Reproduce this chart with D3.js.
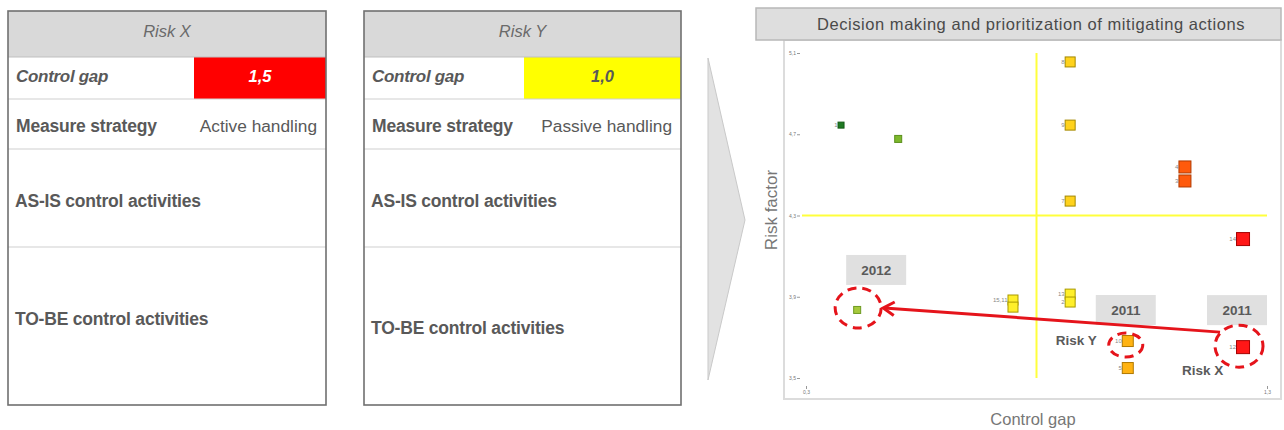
<!DOCTYPE html>
<html>
<head>
<meta charset="utf-8">
<script src="https://cdn.jsdelivr.net/npm/d3@7"></script>
<style>
  body { margin: 0; background: #fff; }
  svg { display: block; }
  text { font-family: "Liberation Sans", Arial, sans-serif; }
</style>
</head>
<body>
<svg id="chart" width="1284" height="430"></svg>
<script>
// ---- Risk cards ----
const riskNames = ["Risk X", "Risk Y"];
const controlGapValues = [1.5, 1.0];
const controlGapLevels = ["critical", "moderate"];
const measureStrategies = ["Active handling", "Passive handling"];
const cardRowTitles = ["Control gap", "Measure strategy", "AS-IS control activities", "TO-BE control activities"];

// ---- Risk matrix ----
const chartTitle = "Decision making and prioritization of mitigating actions";
const xAxisTitle = "Control gap";
const yAxisTitle = "Risk factor";
const xTickValues = [0.3, 1.3];
const yTickValues = [5.1, 4.7, 4.3, 3.9, 3.5];
const controlGapThreshold = 0.8;
const riskFactorThreshold = 4.3;

const pointLabels = ["1", "", "8", "9", "7", "4", "3", "14", "13", "2", "15,11", "", "10", "5", "12", ""];
const pointControlGap = [0.376, 0.50, 0.873, 0.873, 0.873, 1.122, 1.122, 1.248, 0.873, 0.873, 0.749, 0.749, 0.998, 0.998, 1.248, 0.411];
const pointRiskFactor = [4.745, 4.677, 5.056, 4.745, 4.371, 4.539, 4.47, 4.184, 3.913, 3.874, 3.884, 3.849, 3.682, 3.549, 3.652, 3.835];
const pointLevels = ["very low", "low", "elevated", "elevated", "elevated", "very high", "very high", "critical",
                     "moderate", "moderate", "moderate", "moderate", "high", "high", "critical", "target"];

// highlighted movements: Risk X (2011) -> 2012, Risk Y (2011)
const calloutYears = ["2012", "2011", "2011"];
const calloutPoints = [15, 12, 14];
const calloutNames = ["", "Risk Y", "Risk X"];

// ---- styling ----
const levelStyle = {
  "very low":  { fill: "#1f7a22", stroke: "#145a16", size: 6 },
  "low":       { fill: "#7db82c", stroke: "#5a8f1c", size: 7 },
  "target":    { fill: "#a6c93c", stroke: "#6e9a22", size: 7 },
  "moderate":  { fill: "#ffef2a", stroke: "#a99a00", size: 10 },
  "elevated":  { fill: "#ffd21c", stroke: "#a48800", size: 10 },
  "high":      { fill: "#ffb312", stroke: "#b07800", size: 11 },
  "very high": { fill: "#ff5a0c", stroke: "#b13a00", size: 12 },
  "critical":  { fill: "#ff1717", stroke: "#a50000", size: 13 }
};
const cellColors = { critical: "#ff0000", moderate: "#ffff00" };
const cellTextColors = { critical: "#ffffff", moderate: "#595959" };
const decimalComma = d3.formatLocale({ decimal: ",", thousands: ".", grouping: [3], currency: ["", "€"] });
const fmt1 = decimalComma.format(".1f");

const svg = d3.select("#chart");
const textGrey = "#595959";

// ---- cards ----
const cardLayout = [
  { x: 8, w: 318, valueX: 194, toBeBaseline: 325 },
  { x: 364, w: 317, valueX: 524, toBeBaseline: 334 }
];
const rowY = [11, 57, 99, 149, 247, 405];

riskNames.forEach((name, i) => {
  const L = cardLayout[i];
  const g = svg.append("g");
  g.append("rect").attr("x", L.x).attr("y", rowY[0]).attr("width", L.w).attr("height", rowY[1] - rowY[0])
    .attr("fill", "#d9d9d9");
  g.append("rect").attr("x", L.valueX).attr("y", rowY[1]).attr("width", L.x + L.w - L.valueX).attr("height", rowY[2] - rowY[1])
    .attr("fill", cellColors[controlGapLevels[i]]);
  [rowY[1], rowY[2], rowY[3], rowY[4]].forEach((yy, k) => {
    g.append("line").attr("x1", L.x).attr("x2", L.x + L.w).attr("y1", yy).attr("y2", yy)
      .attr("stroke", k === 0 ? "#bfbfbf" : "#d0d0d0").attr("stroke-width", 1.2);
  });
  g.append("rect").attr("x", L.x).attr("y", rowY[0]).attr("width", L.w).attr("height", rowY[5] - rowY[0])
    .attr("fill", "none").attr("stroke", "#707070").attr("stroke-width", 1.6);

  g.append("text").attr("x", L.x + L.w / 2).attr("y", 37).attr("text-anchor", "middle")
    .attr("font-size", 16.5).attr("font-style", "italic").attr("fill", "#6a6a6a").text(name);
  g.append("text").attr("x", L.x + 8).attr("y", 82).attr("font-size", 17).attr("font-weight", "bold")
    .attr("font-style", "italic").attr("letter-spacing", -0.3).attr("fill", textGrey).text(cardRowTitles[0]);
  g.append("text").attr("x", (L.valueX + L.x + L.w) / 2).attr("y", 82).attr("text-anchor", "middle")
    .attr("font-size", 16.5).attr("font-weight", "bold").attr("font-style", "italic")
    .attr("fill", cellTextColors[controlGapLevels[i]]).text(fmt1(controlGapValues[i]));
  g.append("text").attr("x", L.x + 8).attr("y", 132).attr("font-size", 17.5).attr("font-weight", "bold")
    .attr("letter-spacing", -0.2).attr("fill", textGrey).text(cardRowTitles[1]);
  g.append("text").attr("x", L.x + L.w - 9).attr("y", 132).attr("text-anchor", "end").attr("font-size", 17.3)
    .attr("fill", textGrey).text(measureStrategies[i]);
  g.append("text").attr("x", L.x + 7).attr("y", 207).attr("font-size", 17.5).attr("font-weight", "bold")
    .attr("letter-spacing", -0.2).attr("fill", textGrey).text(cardRowTitles[2]);
  g.append("text").attr("x", L.x + 7).attr("y", L.toBeBaseline).attr("font-size", 17.5).attr("font-weight", "bold")
    .attr("letter-spacing", -0.2).attr("fill", textGrey).text(cardRowTitles[3]);
});

// ---- chevron ----
svg.append("polygon").attr("points", "708,58 745,220 708,380")
  .attr("fill", "#e2e2e2").attr("stroke", "#c9c9c9").attr("stroke-width", 1);

// ---- matrix frame and title ----
svg.append("rect").attr("x", 784).attr("y", 40).attr("width", 497).attr("height", 359)
  .attr("fill", "#fff").attr("stroke", "#dcdcdc").attr("stroke-width", 2);
svg.append("rect").attr("x", 756).attr("y", 8).attr("width", 525).attr("height", 32)
  .attr("fill", "#dedede").attr("stroke", "#b8b8b8").attr("stroke-width", 1.5);
svg.append("text").attr("x", 1031).attr("y", 30).attr("text-anchor", "middle").attr("font-size", 16.5)
  .attr("letter-spacing", 0.55).attr("fill", "#4a4a4a").text(chartTitle);

const x = d3.scaleLinear().domain([0.3, 1.3]).range([806, 1267]);
const y = d3.scaleLinear().domain([3.5, 5.1]).range([378, 53]);

// axes
const yAxis = svg.append("g").attr("transform", "translate(800,0)")
  .call(d3.axisLeft(y).tickValues(yTickValues).tickSize(3).tickPadding(1).tickFormat(fmt1));
const xAxis = svg.append("g").attr("transform", "translate(0,386)")
  .call(d3.axisBottom(x).tickValues(xTickValues).tickSize(3).tickPadding(1).tickFormat(fmt1));
[xAxis, yAxis].forEach(a => {
  a.select(".domain").remove();
  a.selectAll(".tick line").attr("stroke", "#999");
  a.selectAll(".tick text").attr("font-size", 5).attr("fill", "#777").attr("font-family", "Liberation Sans, Arial, sans-serif");
});

svg.append("text").attr("transform", "translate(777,210) rotate(-90)").attr("text-anchor", "middle")
  .attr("font-size", 17).attr("fill", "#777").text(yAxisTitle);
svg.append("text").attr("x", 1033).attr("y", 425).attr("text-anchor", "middle")
  .attr("font-size", 16.5).attr("fill", "#777").text(xAxisTitle);

// quadrant thresholds
svg.append("line").attr("x1", x(controlGapThreshold)).attr("x2", x(controlGapThreshold))
  .attr("y1", y(5.1)).attr("y2", y(3.5)).attr("stroke", "#ffff3c").attr("stroke-width", 2);
svg.append("line").attr("x1", 802).attr("x2", x(1.3)).attr("y1", y(riskFactorThreshold)).attr("y2", y(riskFactorThreshold))
  .attr("stroke", "#ffff3c").attr("stroke-width", 2);

// callout year boxes
const calloutLayout = [
  { box: [-11, -55], ring: [1, -2, 23, 20], name: null },
  { box: [-32, -46], ring: [-2, 4, 17, 12], name: [-31, 4, "end"] },
  { box: [-36, -52], ring: [-4, -1, 24, 21], name: [-61, 28, "start"] }
];
calloutYears.forEach((yr, k) => {
  const i = calloutPoints[k], L = calloutLayout[k];
  const px = x(pointControlGap[i]), py = y(pointRiskFactor[i]);
  svg.append("rect").attr("x", px + L.box[0]).attr("y", py + L.box[1]).attr("width", 60).attr("height", 30)
    .attr("fill", "#e0e0e0");
  svg.append("text").attr("x", px + L.box[0] + 30).attr("y", py + L.box[1] + 20).attr("text-anchor", "middle")
    .attr("font-size", 13.5).attr("font-weight", "bold").attr("fill", "#5a5a5a").text(yr);
  if (L.name) {
    svg.append("text").attr("x", px + L.name[0]).attr("y", py + L.name[1]).attr("text-anchor", L.name[2])
      .attr("font-size", 13.5).attr("font-weight", "bold").attr("fill", "#5a5a5a").text(calloutNames[k]);
  }
});

// points
const points = pointLabels.map((lab, i) => ({ lab, cx: pointControlGap[i], rf: pointRiskFactor[i], s: levelStyle[pointLevels[i]] }));
const pg = svg.append("g");
pg.selectAll("rect").data(points).join("rect")
  .attr("x", d => x(d.cx) - d.s.size / 2).attr("y", d => y(d.rf) - d.s.size / 2)
  .attr("width", d => d.s.size).attr("height", d => d.s.size)
  .attr("fill", d => d.s.fill).attr("stroke", d => d.s.stroke).attr("stroke-width", 1);
pg.selectAll("text").data(points.filter(d => d.lab)).join("text")
  .attr("x", d => x(d.cx) - d.s.size / 2 - 0.5).attr("y", d => y(d.rf) + 2)
  .attr("text-anchor", "end").attr("font-size", 6).attr("fill", "#888").text(d => d.lab);

// dashed rings
calloutYears.forEach((yr, k) => {
  const i = calloutPoints[k], L = calloutLayout[k];
  svg.append("ellipse").attr("cx", x(pointControlGap[i]) + L.ring[0]).attr("cy", y(pointRiskFactor[i]) + L.ring[1])
    .attr("rx", L.ring[2]).attr("ry", L.ring[3]).attr("fill", "none").attr("stroke", "#e5141b")
    .attr("stroke-width", 3).attr("stroke-dasharray", "9 6");
});

// movement arrow Risk X 2011 -> 2012
const from = calloutPoints[2], to = calloutPoints[0];
const ax1 = x(pointControlGap[from]) - 23, ay1 = y(pointRiskFactor[from]) - 15;
const ax2 = x(pointControlGap[to]) + 26, ay2 = y(pointRiskFactor[to]) - 2;
const ang = Math.atan2(ay1 - ay2, ax1 - ax2);
const head = 13, spread = 0.55;
svg.append("line").attr("x1", ax1).attr("y1", ay1).attr("x2", ax2 + 1).attr("y2", ay2)
  .attr("stroke", "#e5141b").attr("stroke-width", 3);
svg.append("polyline")
  .attr("points", [
    [ax2 + head * Math.cos(ang + spread), ay2 + head * Math.sin(ang + spread)],
    [ax2, ay2],
    [ax2 + head * Math.cos(ang - spread), ay2 + head * Math.sin(ang - spread)]
  ].map(p => p.join(",")).join(" "))
  .attr("fill", "none").attr("stroke", "#e5141b").attr("stroke-width", 3).attr("stroke-linejoin", "miter");
</script>
</body>
</html>
